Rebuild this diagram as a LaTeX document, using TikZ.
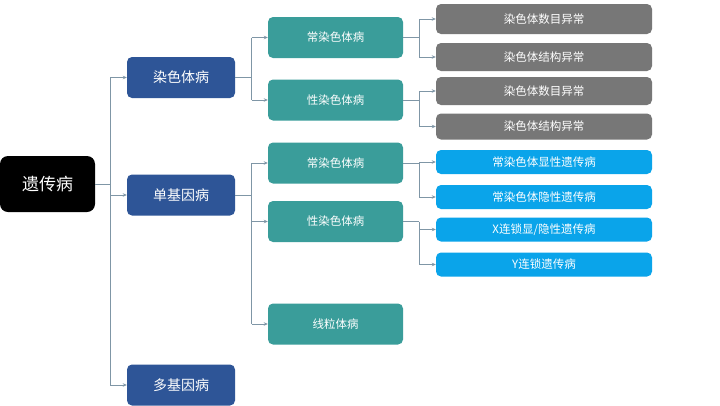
\documentclass[tikz,border=0pt]{standalone}
\usepackage{fontspec}
\setmainfont{Noto Sans CJK SC}
\usetikzlibrary{arrows.meta}
\definecolor{rootc}{HTML}{000000}
\definecolor{lvone}{HTML}{2E5597}
\definecolor{lvtwo}{HTML}{3A9D9A}
\definecolor{grayc}{HTML}{777777}
\definecolor{bluec}{HTML}{0AA4EA}
\definecolor{linec}{HTML}{7F96A6}
\tikzset{
  box/.style={rectangle, rounded corners=5pt, inner sep=0pt, text=white, align=center},
  rootbox/.style={box, fill=rootc, rounded corners=8pt, minimum width=95pt, minimum height=56pt, font=\fontsize{17}{17}\selectfont},
  onebox/.style={box, fill=lvone, minimum width=108pt, minimum height=41pt, font=\fontsize{14}{14}\selectfont},
  twobox/.style={box, fill=lvtwo, minimum width=135pt, minimum height=41pt, font=\fontsize{11.5}{12}\selectfont},
  graybox/.style={box, fill=grayc, minimum width=216pt, font=\fontsize{11.5}{12}\selectfont},
  bluebox/.style={box, fill=bluec, minimum width=216pt, minimum height=24pt, font=\fontsize{11.5}{12}\selectfont},
  conn/.style={draw=linec, line width=0.8pt},
  arr/.style={conn, -{Stealth[length=4pt,width=3.5pt]}}
}
\begin{document}
\begin{tikzpicture}[x=1pt,y={(0pt,-1pt)}]
\fill[white] (0,0) rectangle (720,405);
\useasboundingbox (0,0) rectangle (720,405);
% nodes
\node[rootbox] (root) at (47.5,184) {遗传病};
\node[onebox] (ra) at (181,77.5) {染色体病};
\node[onebox] (rb) at (181,195) {单基因病};
\node[onebox] (rc) at (181,385) {多基因病};
\node[twobox] (aa) at (335.5,37.5) {常染色体病};
\node[twobox] (ab) at (335.5,100) {性染色体病};
\node[twobox] (ba) at (335.5,163) {常染色体病};
\node[twobox] (bb) at (335.5,221.5) {性染色体病};
\node[twobox] (bc) at (335.5,324) {线粒体病};
\node[graybox, minimum height=30pt] (g1) at (544,19) {染色体数目异常};
\node[graybox, minimum height=28pt] (g2) at (544,57) {染色体结构异常};
\node[graybox, minimum height=28pt] (g3) at (544,91) {染色体数目异常};
\node[graybox, minimum height=26pt] (g4) at (544,126.5) {染色体结构异常};
\node[bluebox] (b1) at (544,162) {常染色体显性遗传病};
\node[bluebox] (b2) at (544,197) {常染色体隐性遗传病};
\node[bluebox] (b3) at (544,229.5) {X连锁显/隐性遗传病};
\node[bluebox] (b4) at (544,264.5) {Y连锁遗传病};
% trunk coordinates
\coordinate (t0) at (110,0);
\coordinate (t1) at (251.5,0);
\coordinate (t2) at (419,0);
% root level
\draw[conn] (root.east) -- (root.east -| t0);
\draw[conn] (ra.west -| t0) -- (rc.west -| t0);
\draw[arr] (ra.west -| t0) -- (ra.west);
\draw[arr] (rb.west -| t0) -- (rb.west);
\draw[arr] (rc.west -| t0) -- (rc.west);
% level one to two
\draw[conn] (ra.east) -- (ra.east -| t1);
\draw[conn] (aa.west -| t1) -- (ab.west -| t1);
\draw[arr] (aa.west -| t1) -- (aa.west);
\draw[arr] (ab.west -| t1) -- (ab.west);
\draw[conn] (rb.east) -- (rb.east -| t1);
\draw[conn] (ba.west -| t1) -- (bc.west -| t1);
\draw[arr] (ba.west -| t1) -- (ba.west);
\draw[arr] (bb.west -| t1) -- (bb.west);
\draw[arr] (bc.west -| t1) -- (bc.west);
% level two to three
\draw[conn] (aa.east) -- (aa.east -| t2);
\draw[conn] (g1.west -| t2) -- (g2.west -| t2);
\draw[arr] (g1.west -| t2) -- (g1.west);
\draw[arr] (g2.west -| t2) -- (g2.west);
\draw[conn] (ab.east) -- (ab.east -| t2);
\draw[conn] (g3.west -| t2) -- (g4.west -| t2);
\draw[arr] (g3.west -| t2) -- (g3.west);
\draw[arr] (g4.west -| t2) -- (g4.west);
\draw[conn] (ba.east) -- (ba.east -| t2);
\draw[conn] (ba.east -| t2) -- (b2.west -| t2);
\draw[arr] (b1.west -| t2) -- (b1.west);
\draw[arr] (b2.west -| t2) -- (b2.west);
\draw[conn] (bb.east) -- (bb.east -| t2);
\draw[conn] (bb.east -| t2) -- (b4.west -| t2);
\draw[arr] (b3.west -| t2) -- (b3.west);
\draw[arr] (b4.west -| t2) -- (b4.west);
\end{tikzpicture}
\end{document}
